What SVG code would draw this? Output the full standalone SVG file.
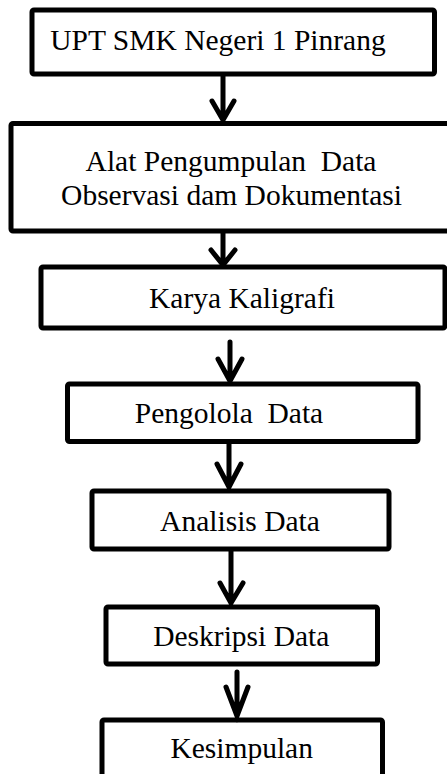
<svg xmlns="http://www.w3.org/2000/svg" width="447" height="774" viewBox="0 0 447 774">
<style>
.box{fill:#fff;stroke:#000;stroke-width:5;stroke-linejoin:round}
.lbl{font-family:"Liberation Serif","Times New Roman",serif;font-size:29.5px;fill:#000;text-anchor:middle;white-space:pre}
.arr{fill:none;stroke:#000;stroke-width:5;stroke-linecap:round;stroke-linejoin:miter}
</style>
<rect width="447" height="774" fill="#fff"/>
<g id="n1"><rect class="box" x="32" y="10" width="402.5" height="64" rx="2"/><text class="lbl" x="218" y="50">UPT SMK Negeri 1 Pinrang</text></g>
<g id="n2"><rect class="box" x="11" y="123.5" width="445" height="107.5" rx="2"/><text class="lbl" x="231" y="171" xml:space="preserve">Alat Pengumpulan  Data</text><text class="lbl" x="231.5" y="205">Observasi dam Dokumentasi</text></g>
<g id="n3"><rect class="box" x="41" y="267" width="404" height="61" rx="2"/><text class="lbl" x="242" y="308">Karya Kaligrafi</text></g>
<g id="n4"><rect class="box" x="67.5" y="384" width="350.5" height="57.5" rx="2"/><text class="lbl" x="229" y="423" xml:space="preserve">Pengolola  Data</text></g>
<g id="n5"><rect class="box" x="92" y="491" width="297" height="58" rx="2"/><text class="lbl" x="240" y="531">Analisis Data</text></g>
<g id="n6"><rect class="box" x="106" y="607" width="271.5" height="57" rx="2"/><text class="lbl" x="241.3" y="646">Deskripsi Data</text></g>
<g id="n7"><rect class="box" x="102" y="720" width="280.5" height="80" rx="2"/><text class="lbl" x="241.7" y="758">Kesimpulan</text></g>
<g id="connectors">
<path class="arr" d="M223 76V120M212 101L223 120L234 101"/>
<path class="arr" d="M223 233V265M211 250L223 265L235 250"/>
<path class="arr" d="M230 342V381M218 359L230 381L242 359"/>
<path class="arr" d="M229 443V487M217 464L229 487L241 464"/>
<path class="arr" d="M231 551V603M220 583L231 603L243 583"/>
<path class="arr" d="M237 672V716M226 687L237 716L248 687"/>
</g>
</svg>
